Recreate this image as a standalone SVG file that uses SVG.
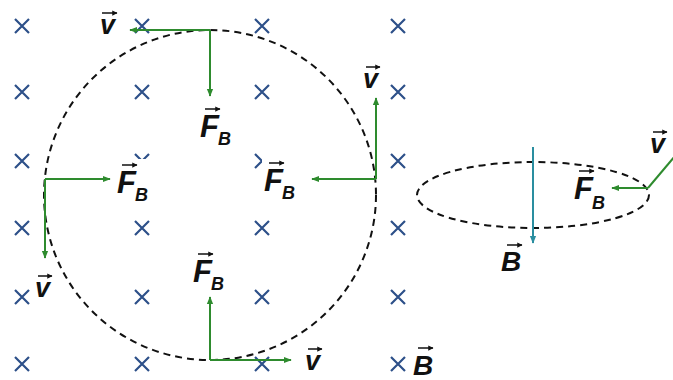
<svg xmlns="http://www.w3.org/2000/svg" width="673" height="380" viewBox="0 0 673 380">
<defs>
<style>
.x{stroke:#2d5089;stroke-width:2.2;fill:none}
.g{stroke:#2e8b2e;stroke-width:2;fill:none}
.d{stroke:#111;stroke-width:2;fill:none;stroke-dasharray:7 5}
.t{font-family:"Liberation Sans",Arial,sans-serif;font-weight:bold;font-style:italic;fill:#111}
.big{font-size:31px}
.bb{font-size:28px}
.v{font-size:27px}
.sub{font-size:18px}
.va{stroke:#111;stroke-width:1.5;fill:none}
.w{fill:#fff}
</style>
<marker id="ah" viewBox="0 0 10 10" refX="9" refY="5" markerWidth="4" markerHeight="4" orient="auto" markerUnits="strokeWidth"><path d="M0,1 L10,5 L0,9 Z" fill="#2e8b2e"/></marker>
<marker id="ahb" viewBox="0 0 10 10" refX="9" refY="5" markerWidth="4" markerHeight="4" orient="auto" markerUnits="strokeWidth"><path d="M0,1 L10,5 L0,9 Z" fill="#2a8ea0"/></marker>
<marker id="vh" viewBox="0 0 10 10" refX="9" refY="5" markerWidth="3.5" markerHeight="3.5" orient="auto" markerUnits="strokeWidth"><path d="M0,0 L10,5 L0,10 Z" fill="#111"/></marker>
<path id="cr" d="M-7,-7 L7,7 M-7,7 L7,-7"/>
</defs>
<rect width="673" height="380" fill="#fff"/>
<g id="field">
<g class="x">
<use href="#cr" x="22" y="26"/><use href="#cr" x="142" y="26"/><use href="#cr" x="262" y="26"/><use href="#cr" x="398" y="26"/>
<use href="#cr" x="22" y="92"/><use href="#cr" x="142" y="92"/><use href="#cr" x="262" y="92"/><use href="#cr" x="398" y="92"/>
<use href="#cr" x="22" y="161"/><use href="#cr" x="142" y="161"/><use href="#cr" x="262" y="161"/><use href="#cr" x="398" y="161"/>
<use href="#cr" x="22" y="228"/><use href="#cr" x="142" y="228"/><use href="#cr" x="262" y="228"/><use href="#cr" x="398" y="228"/>
<use href="#cr" x="22" y="297"/><use href="#cr" x="142" y="297"/><use href="#cr" x="262" y="297"/><use href="#cr" x="398" y="297"/>
<use href="#cr" x="22" y="364"/><use href="#cr" x="142" y="364"/><use href="#cr" x="262" y="364"/><use href="#cr" x="398" y="364"/>
</g>
<rect class="w" x="117" y="159" width="38" height="44"/>
<rect class="w" x="262" y="150" width="42" height="52"/>
</g>
<g id="paths">
<ellipse class="d" cx="210" cy="195" rx="166" ry="165"/>
<ellipse class="d" cx="533" cy="195" rx="116" ry="33"/>
</g>
<g id="connectors">
<path class="g" d="M210,30 H130" marker-end="url(#ah)"/>
<path class="g" d="M210,30 V96" marker-end="url(#ah)"/>
<path class="g" d="M376,179 V98" marker-end="url(#ah)"/>
<path class="g" d="M376,179 H312" marker-end="url(#ah)"/>
<path class="g" d="M45,179 H110" marker-end="url(#ah)"/>
<path class="g" d="M45,179 V258" marker-end="url(#ah)"/>
<path class="g" d="M210,360 V297" marker-end="url(#ah)"/>
<path class="g" d="M210,360 H291" marker-end="url(#ah)"/>
<path d="M533,147 V243" stroke="#2a8ea0" stroke-width="2" fill="none" marker-end="url(#ahb)"/>
<path class="g" d="M648,188 H612" marker-end="url(#ah)"/>
<path class="g" d="M648,188 L675,156"/>
</g>
<g id="labels">
<g id="v-top"><text class="t v" x="100" y="34">v</text><path class="va" d="M102,13 H117" marker-end="url(#vh)"/></g>
<g id="fb-top"><text class="t big" x="200" y="137">F</text><text class="t sub" x="218" y="145">B</text><path class="va" d="M205,109 H220" marker-end="url(#vh)"/></g>
<g id="fb-left"><text class="t big" x="117" y="193">F</text><text class="t sub" x="135" y="201">B</text><path class="va" d="M122,165 H137" marker-end="url(#vh)"/></g>
<g id="fb-right"><text class="t big" x="264" y="191">F</text><text class="t sub" x="282" y="199">B</text><path class="va" d="M269,163 H284" marker-end="url(#vh)"/></g>
<g id="v-right"><text class="t v" x="363" y="88">v</text><path class="va" d="M366,67 H380" marker-end="url(#vh)"/></g>
<g id="v-left"><text class="t v" x="35" y="297">v</text><path class="va" d="M38,276 H52" marker-end="url(#vh)"/></g>
<g id="fb-bottom"><text class="t big" x="193" y="282">F</text><text class="t sub" x="211" y="290">B</text><path class="va" d="M198,254 H213" marker-end="url(#vh)"/></g>
<g id="v-bottom"><text class="t v" x="305" y="370">v</text><path class="va" d="M308,349 H322" marker-end="url(#vh)"/></g>
<g id="b-field"><text class="t bb" x="413" y="375">B</text><path class="va" d="M418,348 H433" marker-end="url(#vh)"/></g>
<g id="b-ellipse"><text class="t bb" x="501" y="271">B</text><path class="va" d="M507,245 H522" marker-end="url(#vh)"/></g>
<g id="fb-ellipse"><text class="t big" x="574" y="199">F</text><text class="t sub" x="592" y="209">B</text><path class="va" d="M579,171 H594" marker-end="url(#vh)"/></g>
<g id="v-ellipse"><text class="t v" x="650" y="153">v</text><path class="va" d="M653,132 H667" marker-end="url(#vh)"/></g>
</g>
</svg>
